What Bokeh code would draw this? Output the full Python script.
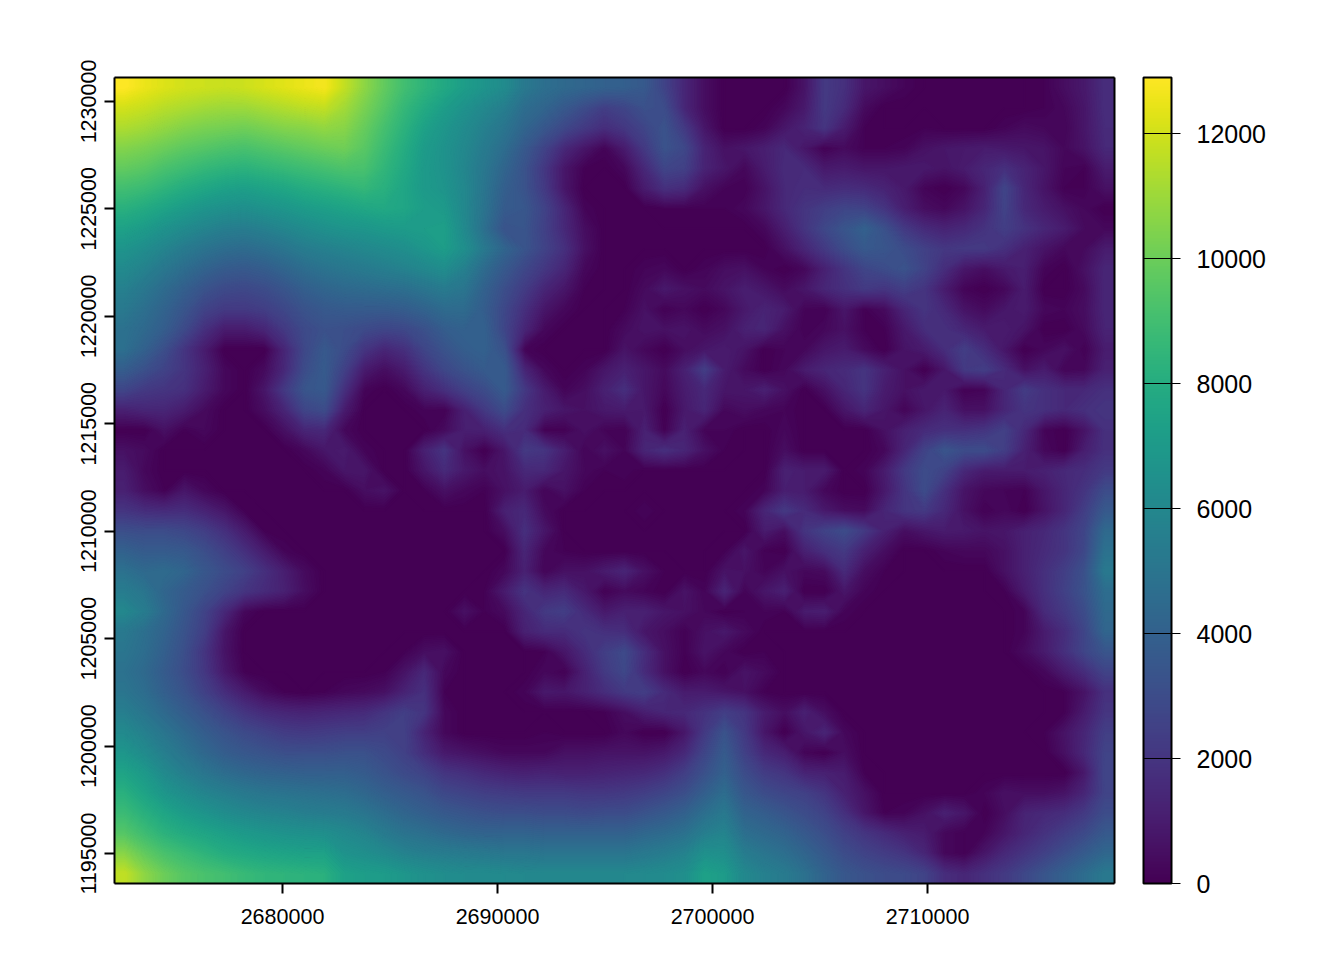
import numpy as np
from bokeh.plotting import figure
from bokeh.models import Range1d, FixedTicker, LinearColorMapper, ColorBar, PrintfTickFormatter, LinearAxis
from bokeh.palettes import Viridis256
from bokeh.embed import file_html
from bokeh.resources import INLINE

# Raster values, in hundreds, north to south, west to east.
row_00 = [129,125,122,120,119,118,119,121,123,125,127,117,107,98,90,84,78,72,67,62,52,47,44,42,40,39,36,26,14,5,0,0,0,0,7,22,18,8,5,2,0,0,0,0,0,0,1,5,9,17]
row_01 = [120,118,115,113,111,110,110,112,114,116,117,111,103,95,86,79,72,66,60,55,46,42,36,30,24,27,32,30,14,5,0,0,0,3,9,22,16,4,0,0,0,0,0,0,0,0,1,3,8,17]
row_02 = [113,111,108,105,103,102,101,103,105,106,108,106,99,91,83,74,68,62,56,50,42,35,28,22,17,21,27,33,22,8,0,0,2,8,13,20,10,1,0,0,1,0,0,0,2,4,3,2,8,16]
row_03 = [105,103,100,97,95,93,92,94,96,98,100,101,96,88,80,71,66,60,53,46,36,26,15,8,2,10,22,33,28,13,6,8,11,15,8,1,4,1,1,2,6,8,9,10,9,8,7,3,7,15]
row_04 = [98,96,92,89,86,84,83,85,87,89,91,93,92,85,78,70,66,59,51,42,33,21,8,1,0,3,15,27,25,13,8,3,10,16,16,9,10,8,8,9,9,7,10,14,18,13,8,2,1,10]
row_05 = [90,88,84,80,77,74,73,75,77,80,82,84,86,82,76,70,67,60,50,39,33,22,8,0,0,0,10,18,16,6,2,1,7,15,17,16,17,16,13,9,2,0,3,12,27,14,7,1,1,6]
row_06 = [82,79,75,71,67,65,64,66,68,71,73,75,77,78,76,72,70,60,49,37,35,26,14,2,0,0,0,1,1,1,1,3,8,15,20,24,27,26,20,11,5,3,7,14,26,15,10,6,3,0]
row_07 = [74,71,66,62,58,55,54,56,59,62,65,67,68,70,71,72,73,61,47,33,34,25,15,5,0,0,0,0,0,0,0,0,3,11,20,28,34,40,32,22,16,13,15,19,24,19,14,10,4,3]
row_08 = [67,63,58,53,49,46,45,47,50,54,56,58,60,62,64,68,72,64,52,42,34,26,18,6,0,0,0,0,0,0,0,0,0,6,14,22,30,36,34,30,25,21,22,22,18,12,7,3,4,10]
row_09 = [61,57,51,46,41,37,36,38,42,46,49,51,53,55,57,60,63,56,45,36,28,21,14,3,0,0,2,3,0,2,5,6,2,0,3,12,20,27,30,33,26,17,8,5,9,11,2,0,6,14]
row_10 = [56,51,45,39,33,29,28,30,34,39,42,44,45,46,47,50,53,50,40,31,23,14,8,1,0,0,4,9,6,4,7,11,8,4,8,14,18,22,20,24,20,10,2,0,3,10,0,0,4,14]
row_11 = [52,47,41,34,26,22,22,24,28,33,36,37,37,37,38,41,45,45,38,28,18,8,3,0,0,1,6,1,3,0,3,9,13,10,2,1,8,1,4,14,20,15,7,4,8,10,3,2,5,14]
row_12 = [48,44,38,29,18,10,10,14,22,29,32,31,29,27,28,32,38,40,40,27,14,3,0,0,0,4,7,6,7,4,6,12,14,6,1,3,6,1,1,9,17,18,14,10,10,7,0,0,4,13]
row_13 = [47,40,31,20,10,0,0,0,14,28,36,30,20,14,18,27,33,38,40,32,2,0,0,0,0,7,3,0,5,8,10,7,0,2,3,8,10,4,0,7,10,17,24,17,8,0,3,6,1,10]
row_14 = [38,32,26,20,12,3,0,4,15,30,37,25,10,5,10,20,28,33,37,37,14,3,0,2,8,12,8,4,12,24,10,4,0,3,10,14,16,20,12,6,0,8,22,24,16,6,10,2,3,12]
row_15 = [27,22,20,18,10,3,0,8,22,34,36,18,2,0,3,12,18,25,30,37,22,10,2,5,12,18,8,3,10,15,8,8,12,6,0,6,14,20,10,6,9,9,1,2,14,23,18,15,15,18]
row_16 = [12,14,14,10,4,0,0,5,14,27,30,10,0,0,0,2,1,12,22,30,18,12,8,6,9,10,9,0,9,14,3,5,3,2,0,0,8,14,8,2,8,13,6,6,14,20,18,15,18,20]
row_17 = [0,0,6,1,3,0,0,0,6,14,15,3,0,0,0,0,4,11,12,18,16,1,1,6,2,1,12,1,12,2,2,0,0,3,0,0,0,0,6,12,16,18,18,20,25,15,2,0,7,18]
row_18 = [6,4,0,0,0,0,0,0,0,3,8,10,2,0,0,12,20,6,0,8,22,20,11,2,6,2,14,18,14,6,1,0,0,5,0,0,0,0,3,14,26,34,30,30,24,12,3,0,11,18]
row_19 = [10,3,0,0,0,0,0,0,0,0,2,8,8,0,0,8,16,9,5,7,15,15,8,3,1,2,0,0,0,0,0,0,0,12,10,10,0,2,10,22,30,26,15,10,10,10,12,15,17,22]
row_20 = [12,5,1,8,3,0,0,0,0,0,0,0,5,7,0,1,6,3,1,6,10,2,6,1,0,0,0,0,0,0,0,0,2,11,10,3,0,0,9,20,30,18,7,3,2,1,8,14,20,30]
row_21 = [20,17,16,17,13,8,1,0,0,0,0,0,0,0,0,0,0,0,0,12,15,4,0,0,0,0,2,0,0,0,0,2,14,22,16,9,5,4,14,20,22,15,6,1,3,0,7,14,24,36]
row_22 = [31,30,30,28,24,18,10,1,0,0,0,0,0,0,0,0,0,0,0,5,18,8,0,0,0,0,0,0,0,0,0,0,10,5,20,26,30,22,12,5,8,10,9,7,8,12,15,20,27,44]
row_23 = [40,37,37,36,31,25,18,10,2,0,0,0,0,0,0,0,0,0,0,0,14,3,1,0,0,0,0,0,0,0,1,8,1,0,12,18,22,12,5,0,0,2,3,3,6,12,16,20,28,48]
row_24 = [48,44,45,42,35,30,25,18,11,4,0,0,0,0,0,0,0,0,0,3,12,2,6,6,10,14,6,1,0,0,7,6,2,6,3,4,16,5,1,0,0,0,0,0,6,12,18,24,32,52]
row_25 = [54,50,42,37,32,26,20,16,12,5,0,0,0,0,0,0,0,0,1,10,20,14,16,9,1,4,2,0,7,2,14,2,8,12,0,0,8,2,0,0,0,0,0,0,1,10,18,25,33,46]
row_26 = [60,54,44,35,26,15,3,0,0,0,0,0,0,0,0,0,0,6,1,4,14,22,24,16,9,12,12,8,6,3,0,1,2,1,10,11,2,0,0,0,0,0,0,0,0,2,16,22,30,44]
row_27 = [52,47,41,33,24,8,0,0,0,0,0,0,0,0,0,0,0,0,0,0,12,16,16,20,18,17,8,5,1,6,9,4,0,0,0,0,0,0,0,0,0,0,0,0,0,2,10,17,27,42]
row_28 = [50,46,39,31,20,7,0,0,0,0,0,0,0,0,1,5,6,0,0,0,0,1,8,16,24,29,17,6,1,7,3,0,1,0,0,0,0,0,0,0,0,0,0,0,0,4,10,18,27,34]
row_29 = [48,44,37,30,21,9,1,0,0,0,0,0,0,1,7,15,3,0,0,0,0,3,1,12,22,28,16,6,0,3,1,7,4,0,0,0,0,0,0,0,0,0,0,0,0,0,3,10,17,26]
row_30 = [50,46,39,33,25,17,10,4,1,0,1,3,4,6,13,18,1,0,0,0,2,9,8,12,17,22,24,16,10,10,8,6,1,0,0,0,0,0,0,0,0,0,0,0,0,0,0,1,7,18]
row_31 = [55,50,44,38,32,26,20,16,14,13,14,15,16,20,24,20,3,0,0,0,0,0,0,0,1,5,11,14,15,19,24,20,10,5,12,5,0,0,0,0,0,0,0,0,0,0,0,1,10,20]
row_32 = [61,56,50,44,38,33,29,26,23,22,23,24,24,25,25,13,3,0,0,0,0,1,0,0,0,3,0,0,8,22,33,22,8,0,8,14,3,0,0,0,0,0,0,0,0,0,1,7,14,24]
row_33 = [68,62,55,49,43,38,35,33,31,31,31,32,32,29,25,17,9,7,5,3,3,3,6,6,7,7,7,9,15,27,37,25,15,11,2,0,5,0,0,0,0,0,0,0,0,0,0,6,15,26]
row_34 = [75,70,61,55,50,46,43,41,40,39,39,39,37,33,29,26,20,18,15,13,12,13,12,12,13,14,15,18,24,32,40,30,23,20,13,12,10,1,0,0,0,0,0,0,0,0,0,0,9,27]
row_35 = [82,75,68,63,58,55,52,50,49,48,47,46,43,39,36,33,28,26,24,23,22,22,22,21,21,22,24,27,31,39,46,35,30,27,25,20,12,6,0,0,0,0,0,2,6,5,5,7,14,26]
row_36 = [88,82,76,71,67,63,60,58,57,55,54,53,50,46,42,39,36,34,32,31,31,30,30,29,30,30,33,36,40,47,52,41,38,34,30,26,18,8,1,2,6,12,8,0,5,13,15,17,22,30]
row_37 = [95,89,83,79,76,73,70,68,66,65,64,61,58,53,49,47,44,42,41,41,41,40,40,40,40,40,43,45,48,55,58,47,44,41,36,31,25,20,16,12,10,3,1,2,8,14,19,24,29,36]
row_38 = [106,98,92,88,84,80,78,76,75,74,74,66,64,61,57,55,54,53,52,51,51,50,50,50,50,50,52,54,57,65,64,54,50,47,42,36,30,26,23,20,14,3,1,8,15,20,25,31,37,43]
row_39 = [117,107,100,95,92,90,87,85,84,83,82,74,72,71,68,65,63,62,62,61,60,60,60,60,60,60,61,62,64,74,71,60,56,53,48,41,35,32,30,29,26,17,14,18,22,28,34,40,46,52]

value_rows = [row_00,row_01,row_02,row_03,row_04,row_05,row_06,row_07,row_08,row_09,
              row_10,row_11,row_12,row_13,row_14,row_15,row_16,row_17,row_18,row_19,
              row_20,row_21,row_22,row_23,row_24,row_25,row_26,row_27,row_28,row_29,
              row_30,row_31,row_32,row_33,row_34,row_35,row_36,row_37,row_38,row_39]

x_ticks = [2680000, 2690000, 2700000, 2710000]
y_ticks = [1195000, 1200000, 1205000, 1210000, 1215000, 1220000, 1225000, 1230000]
legend_ticks = [0, 2000, 4000, 6000, 8000, 10000, 12000]
value_max = 12900
x_lim = (2672186, 2718698)
y_lim = (1193604, 1231117)

# The typed cells sit at their centres; the outer half-cell repeats the nearest cell.
grid = np.pad(np.flipud(np.array(value_rows, dtype=float) * 100), 1, mode="edge")
nrow, ncol = np.array(value_rows).shape
dx = (x_lim[1] - x_lim[0]) / ncol
dy = (y_lim[1] - y_lim[0]) / nrow
xs = np.r_[x_lim[0], x_lim[0] + dx * (np.arange(ncol) + 0.5), x_lim[1]]
ys = np.r_[y_lim[0], y_lim[0] + dy * (np.arange(nrow) + 0.5), y_lim[1]]

p = figure(width=1330, height=944, frame_width=1000, frame_height=806,
           x_range=Range1d(*x_lim), y_range=Range1d(*y_lim),
           output_backend="svg", toolbar_location=None,
           min_border_left=114, min_border_top=77, min_border_right=216, min_border_bottom=61)
p.grid.visible = False
p.background_fill_color = Viridis256[0]
p.outline_line_color = None

mapper = LinearColorMapper(palette=Viridis256, low=0, high=value_max)
levels = list(range(0, value_max + 101, 100))
band_colors = [Viridis256[min(255, int((a + 50) / value_max * 256))] for a in levels[:-1]]
line_colors = [Viridis256[min(255, int(a / value_max * 256))] for a in levels]
p.contour(xs, ys, grid, levels, fill_color=band_colors, line_color=line_colors, line_width=1.6)

for ax, ticks in ((p.xaxis[0], x_ticks), (p.yaxis[0], y_ticks)):
    ax.ticker = FixedTicker(ticks=ticks)
    ax.formatter = PrintfTickFormatter(format="%d")
    ax.axis_line_color = "black"
    ax.axis_line_width = 2
    ax.major_tick_line_color = "black"
    ax.major_tick_line_width = 2
    ax.major_tick_in = 0
    ax.major_tick_out = 10
    ax.minor_tick_line_color = None
    ax.major_label_text_font = "Liberation Sans"
    ax.major_label_text_font_size = "21.5px"
    ax.major_label_text_color = "black"
p.xaxis[0].major_label_standoff = 15
p.yaxis[0].major_label_standoff = 8
p.yaxis[0].major_label_orientation = "vertical"

# Top and right edges of the box, drawn above the raster.
for side in ("above", "right"):
    edge = LinearAxis(ticker=FixedTicker(ticks=[]), major_tick_line_color=None, minor_tick_line_color=None,
                      major_label_text_font_size="0px", major_label_standoff=0,
                      axis_line_color="black", axis_line_width=2)
    p.add_layout(edge, side)

cb = ColorBar(color_mapper=mapper, ticker=FixedTicker(ticks=legend_ticks),
              formatter=PrintfTickFormatter(format="%d"),
              width=28, height=806, padding=0, margin=0,
              bar_line_color="black", bar_line_width=2,
              major_tick_line_color="black", major_tick_line_width=1,
              major_tick_in=28, major_tick_out=9, minor_tick_line_color=None,
              major_label_text_font="Liberation Sans", major_label_text_font_size="25px",
              major_label_text_color="black", label_standoff=16,
              border_line_color=None, background_fill_color=None,
              location=(29, 0))
p.add_layout(cb, "right")

open("out.html", "w").write(file_html(p, INLINE))
